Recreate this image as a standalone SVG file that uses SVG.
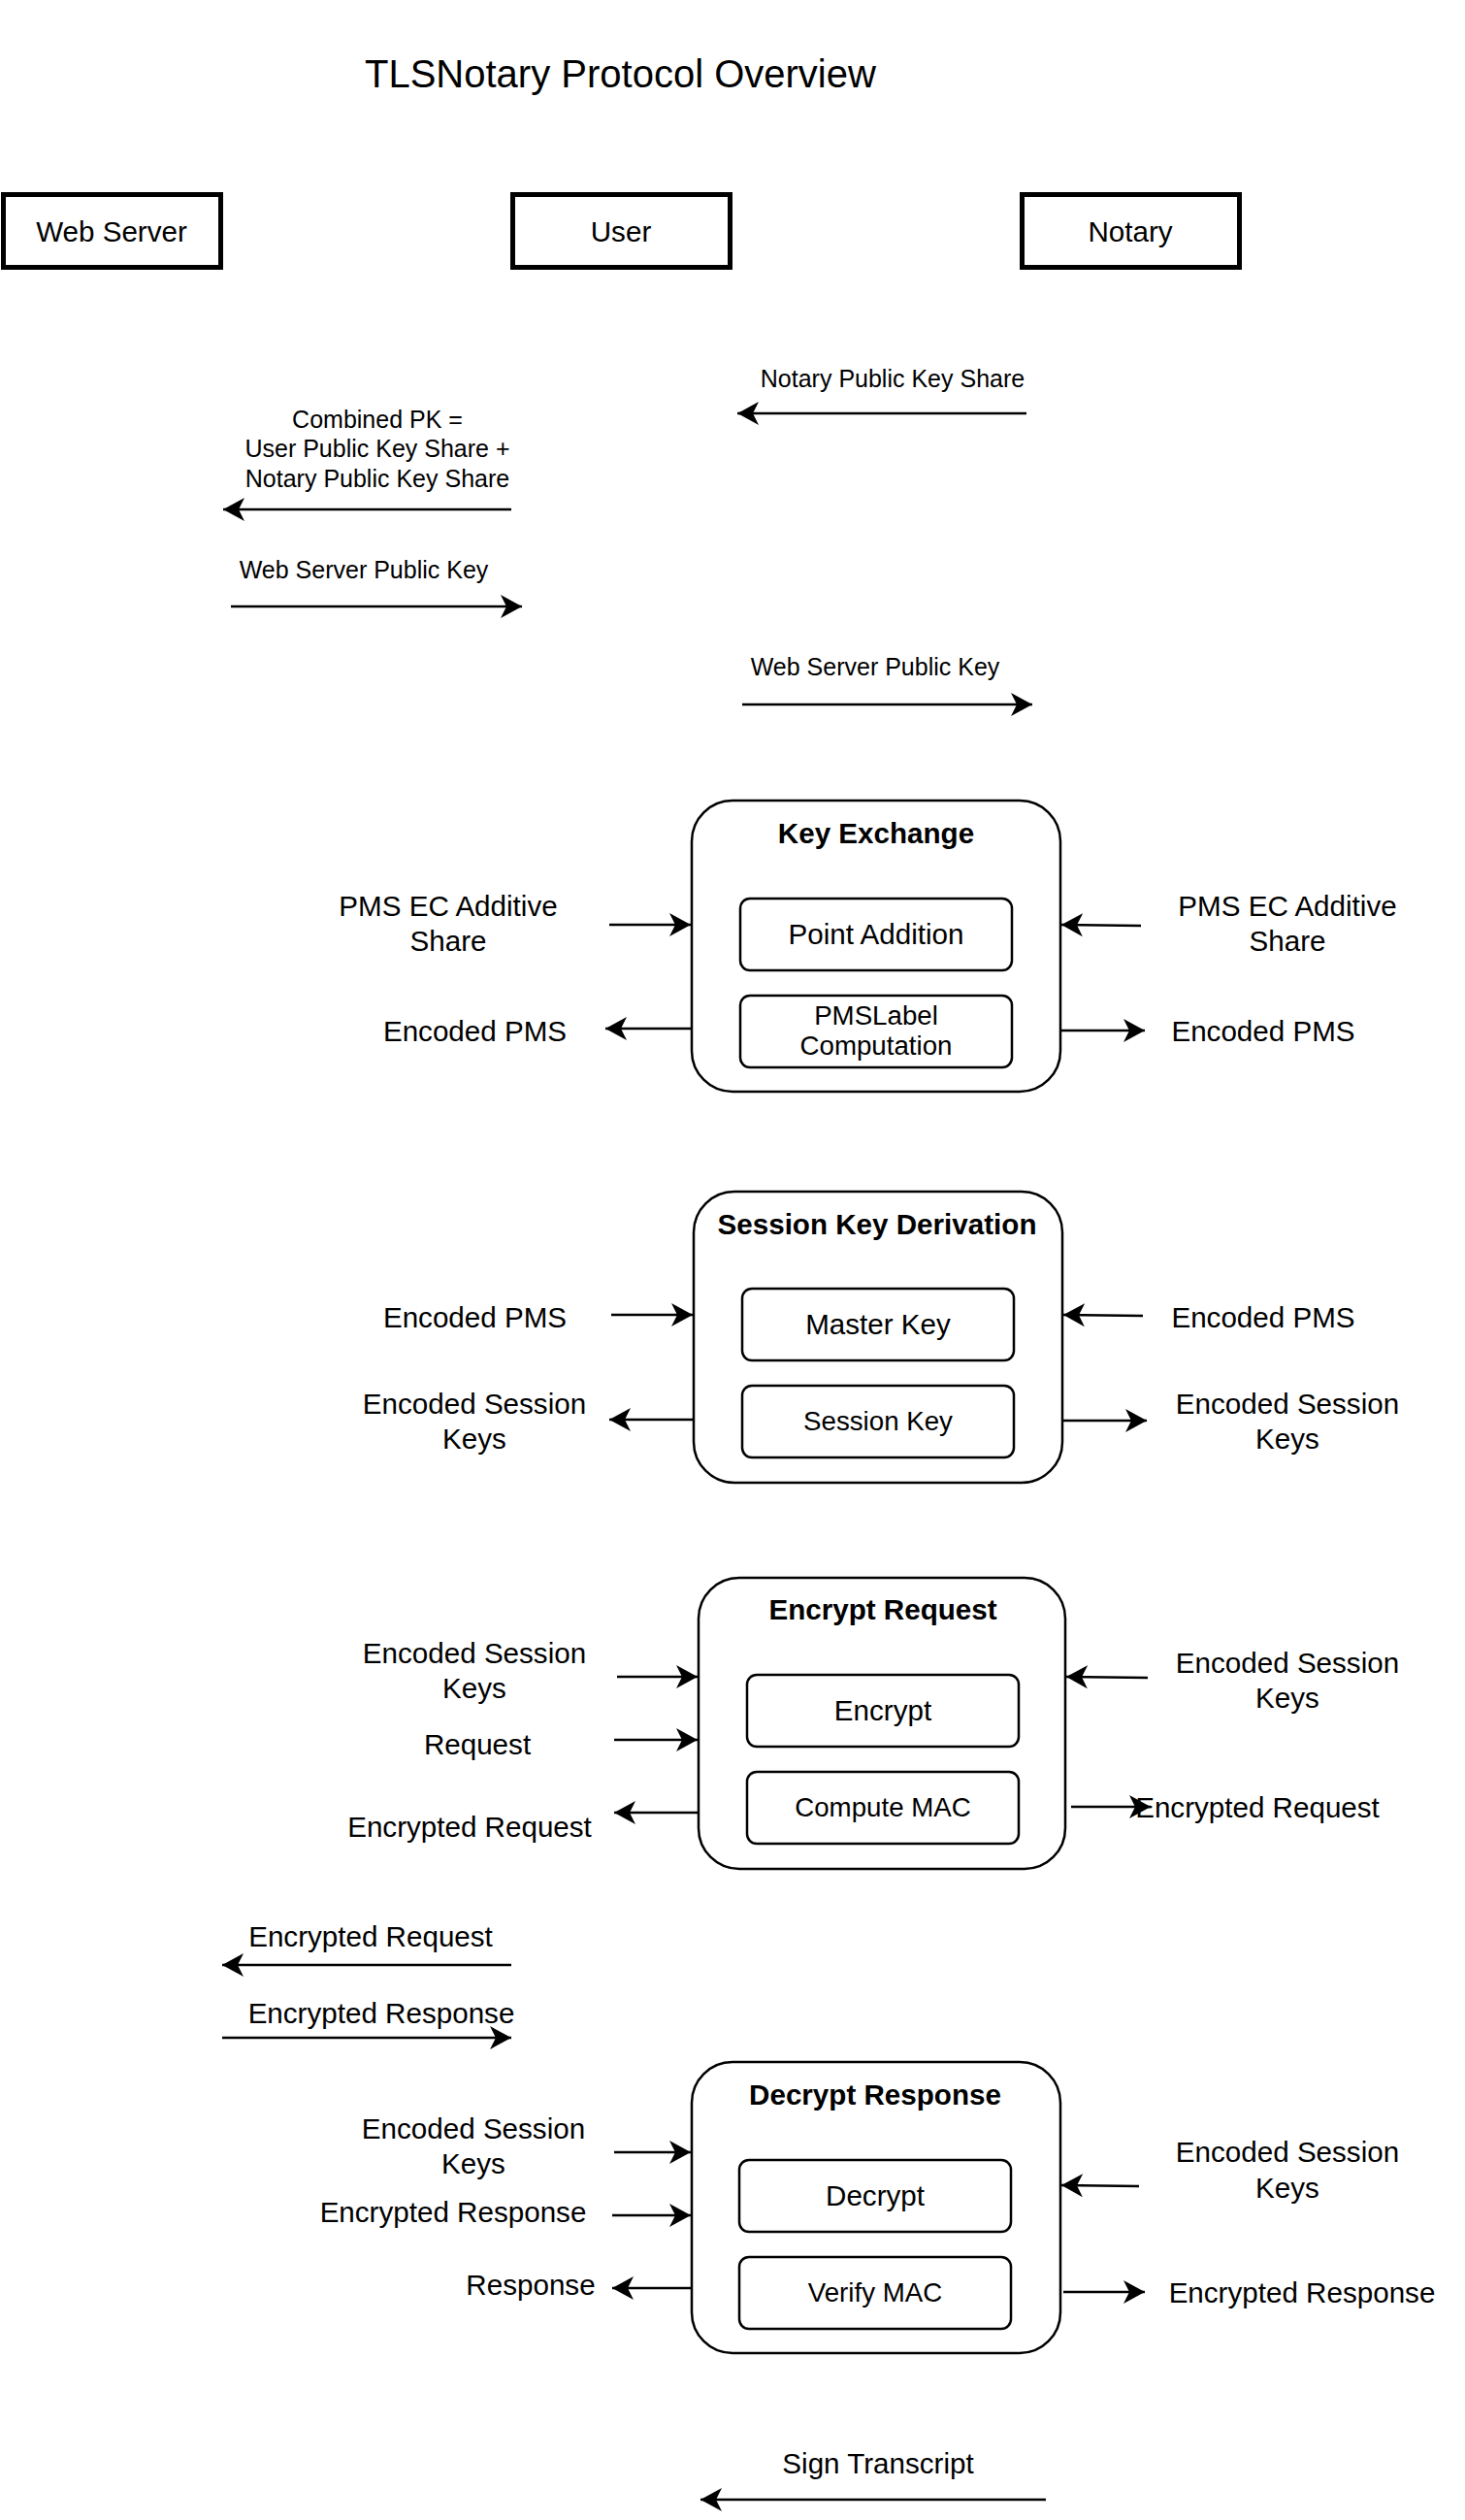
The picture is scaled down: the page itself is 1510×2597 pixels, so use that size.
<svg xmlns="http://www.w3.org/2000/svg" width="1510" height="2597" viewBox="0 0 1510 2597">
<defs>
<style>
text{font-family:"Liberation Sans",Arial,Helvetica,sans-serif;fill:#000}
.t{font-size:40px}
.m{font-size:29.6px;text-anchor:middle}
.s{font-size:27.7px;text-anchor:middle}
.xs{font-size:25px;text-anchor:middle}
.b{font-size:29.6px;font-weight:bold;text-anchor:middle}
.actor{fill:#fff;stroke:#000;stroke-width:5}
.outer{fill:#fff;stroke:#000;stroke-width:2.5}
.inner{fill:#fff;stroke:#000;stroke-width:2.5}
.c line{stroke:#000;stroke-width:2.5;fill:none;marker-end:url(#ah)}
</style>
<marker id="ah" markerUnits="userSpaceOnUse" markerWidth="24" markerHeight="26" refX="22" refY="12" orient="auto" viewBox="0 0 24 26">
<path d="M0,0 L22,12 L0,24 L6,12 Z" fill="#000"/>
</marker>
</defs>
<rect width="1510" height="2597" fill="#fff"/>
<text class="t" x="376" y="90">TLSNotary Protocol Overview</text>

<g id="web-server"><rect class="actor" x="3.5" y="200.5" width="224" height="75"/><text class="m" x="115" y="249">Web Server</text></g>
<g id="user"><rect class="actor" x="528.5" y="200.5" width="224" height="75"/><text class="m" x="640" y="249">User</text></g>
<g id="notary"><rect class="actor" x="1053.5" y="200.5" width="224" height="75"/><text class="m" x="1165" y="249">Notary</text></g>

<g id="key-exchange">
<rect class="outer" x="713" y="825" width="380" height="300" rx="42"/>
<text class="b" x="903" y="869">Key Exchange</text>
<g id="point-addition"><rect class="inner" x="763" y="926" width="280" height="74" rx="10"/><text class="m" x="903" y="973">Point Addition</text></g>
<g id="pmslabel"><rect class="inner" x="763" y="1026" width="280" height="74" rx="10"/><text class="s" x="903" y="1056">PMSLabel</text><text class="s" x="903" y="1087">Computation</text></g>
</g>

<g id="session-key-derivation">
<rect class="outer" x="715" y="1228" width="380" height="300" rx="42"/>
<text class="b" x="904" y="1272">Session Key Derivation</text>
<g id="master-key"><rect class="inner" x="765" y="1328" width="280" height="74" rx="10"/><text class="m" x="905" y="1375">Master Key</text></g>
<g id="session-key"><rect class="inner" x="765" y="1428" width="280" height="74" rx="10"/><text class="s" x="905" y="1474">Session Key</text></g>
</g>

<g id="encrypt-request">
<rect class="outer" x="720" y="1626" width="378" height="300" rx="42"/>
<text class="b" x="910" y="1669">Encrypt Request</text>
<g id="encrypt"><rect class="inner" x="770" y="1726" width="280" height="74" rx="10"/><text class="m" x="910" y="1773">Encrypt</text></g>
<g id="compute-mac"><rect class="inner" x="770" y="1826" width="280" height="74" rx="10"/><text class="s" x="910" y="1872">Compute MAC</text></g>
</g>

<g id="decrypt-response">
<rect class="outer" x="713" y="2125" width="380" height="300" rx="42"/>
<text class="b" x="902" y="2169">Decrypt Response</text>
<g id="decrypt"><rect class="inner" x="762" y="2226" width="280" height="74" rx="10"/><text class="m" x="902" y="2273">Decrypt</text></g>
<g id="verify-mac"><rect class="inner" x="762" y="2326" width="280" height="74" rx="10"/><text class="s" x="902" y="2372">Verify MAC</text></g>
</g>

<g id="connectors" class="c">
<line x1="1058" y1="426" x2="760" y2="426"/>
<line x1="527" y1="525" x2="230" y2="525"/>
<line x1="238" y1="625" x2="538" y2="625"/>
<line x1="765" y1="726" x2="1064" y2="726"/>

<line x1="628" y1="953" x2="712" y2="953"/>
<line x1="712" y1="1060" x2="624" y2="1060"/>
<line x1="1176" y1="954" x2="1094" y2="953"/>
<line x1="1094" y1="1062" x2="1180" y2="1062"/>

<line x1="630" y1="1355" x2="714" y2="1355"/>
<line x1="714" y1="1463" x2="628" y2="1463"/>
<line x1="1178" y1="1356" x2="1096" y2="1355"/>
<line x1="1096" y1="1464" x2="1182" y2="1464"/>

<line x1="636" y1="1728" x2="719" y2="1728"/>
<line x1="633" y1="1793" x2="719" y2="1793"/>
<line x1="719" y1="1868" x2="633" y2="1868"/>
<line x1="1183" y1="1729" x2="1099" y2="1728"/>
<line x1="1104" y1="1862" x2="1186" y2="1862"/>

<line x1="527" y1="2025" x2="229" y2="2025"/>
<line x1="229" y1="2100" x2="527" y2="2100"/>

<line x1="633" y1="2218" x2="712" y2="2218"/>
<line x1="631" y1="2283" x2="712" y2="2283"/>
<line x1="712" y1="2358" x2="631" y2="2358"/>
<line x1="1174" y1="2253" x2="1094" y2="2252"/>
<line x1="1096" y1="2362" x2="1180" y2="2362"/>

<line x1="1078" y1="2576" x2="722" y2="2576"/>
</g>

<g id="labels">
<text class="xs" x="920" y="399">Notary Public Key Share</text>
<text class="xs" x="389" y="441">Combined PK =</text>
<text class="xs" x="389" y="471">User Public Key Share +</text>
<text class="xs" x="389" y="502">Notary Public Key Share</text>
<text class="xs" x="375" y="596">Web Server Public Key</text>
<text class="xs" x="902" y="696">Web Server Public Key</text>

<text class="m" x="462" y="944">PMS EC Additive</text>
<text class="m" x="462" y="980">Share</text>
<text class="m" x="489.5" y="1073">Encoded PMS</text>
<text class="m" x="1327" y="944">PMS EC Additive</text>
<text class="m" x="1327" y="980">Share</text>
<text class="m" x="1302" y="1073">Encoded PMS</text>

<text class="m" x="489.5" y="1368">Encoded PMS</text>
<text class="m" x="489" y="1457">Encoded Session</text>
<text class="m" x="489" y="1493">Keys</text>
<text class="m" x="1302" y="1368">Encoded PMS</text>
<text class="m" x="1327" y="1457">Encoded Session</text>
<text class="m" x="1327" y="1493">Keys</text>

<text class="m" x="489" y="1714">Encoded Session</text>
<text class="m" x="489" y="1750">Keys</text>
<text class="m" x="492" y="1808">Request</text>
<text class="m" x="484" y="1893">Encrypted Request</text>
<text class="m" x="1327" y="1724">Encoded Session</text>
<text class="m" x="1327" y="1760">Keys</text>
<text class="m" x="1296" y="1873">Encrypted Request</text>

<text class="m" x="382" y="2006">Encrypted Request</text>
<text class="m" x="393" y="2085">Encrypted Response</text>

<text class="m" x="488" y="2204">Encoded Session</text>
<text class="m" x="488" y="2240">Keys</text>
<text class="m" x="467" y="2290">Encrypted Response</text>
<text class="m" x="547" y="2365">Response</text>
<text class="m" x="1327" y="2228">Encoded Session</text>
<text class="m" x="1327" y="2265">Keys</text>
<text class="m" x="1342" y="2373">Encrypted Response</text>

<text class="m" x="905" y="2549">Sign Transcript</text>
</g>
</svg>
